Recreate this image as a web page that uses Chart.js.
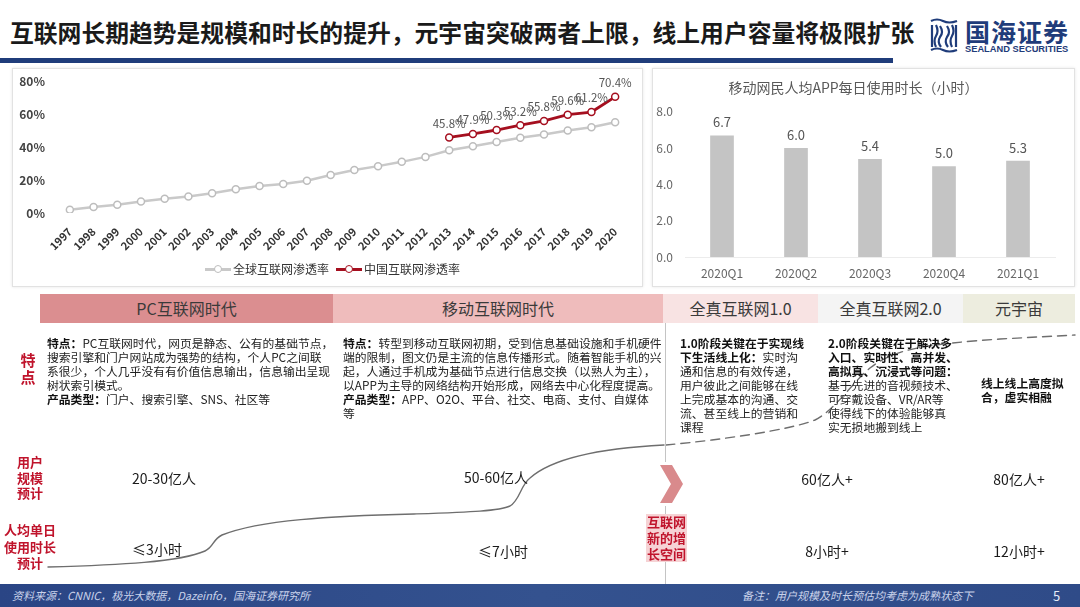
<!DOCTYPE html>
<html>
<head>
<meta charset="utf-8">
<script src="https://cdn.jsdelivr.net/npm/chart.js@4.4.1/dist/chart.umd.min.js"></script>
<style>
  html,body{margin:0;padding:0;}
  body{width:1080px;height:607px;position:relative;overflow:hidden;background:#fff;
       font-family:"Noto Sans CJK SC","Noto Sans",sans-serif;color:#222;}
  .abs{position:absolute;}
  .title{left:10px;top:15px;font-size:23.8px;font-weight:700;color:#1a1a1a;white-space:nowrap;line-height:34px;}
  .tbar{left:0;top:58px;width:893px;height:5px;background:#1f3c7a;}
  .panel{border:1px solid #e2e2e2;box-shadow:0 0 3px rgba(0,0,0,0.10);background:#fff;}
  .hdr{top:294px;height:29px;line-height:29px;text-align:center;font-size:16px;color:#3a3a3a;}
  .txt{font-size:11.8px;line-height:14px;white-space:nowrap;color:#222;}
  .txt b{font-weight:700;color:#111;}
  .red{color:#c0142c;font-weight:700;text-align:center;white-space:nowrap;}
  .val{font-size:14px;color:#1a1a1a;white-space:nowrap;transform:translate(-50%,-50%);}
  .foot{left:0;top:584px;width:1080px;height:23px;background:linear-gradient(90deg,#2a4585,#34528f 50%,#2f4b88);}
  .ftxt{font-size:11px;font-style:italic;color:#c9d2ea;white-space:nowrap;line-height:23px;top:584px;}
  .leg{font-size:12px;color:#333;white-space:nowrap;top:261px;line-height:16px;}
  .mk{display:inline-block;position:relative;width:26px;height:16px;vertical-align:top;margin-right:2px;}
  .mk i{position:absolute;left:0;top:7px;width:26px;height:2.5px;}
  .mk s{position:absolute;left:9px;top:4px;width:6px;height:6px;border-radius:50%;background:#fff;border:1.5px solid;}
</style>
</head>
<body>
<script>
// ---------------- data ----------------
const years = ['1997','1998','1999','2000','2001','2002','2003','2004','2005','2006','2007','2008',
               '2009','2010','2011','2012','2013','2014','2015','2016','2017','2018','2019','2020'];
const globalRate = [2,3.6,5,7,8.6,10,12,14.4,16.4,17.6,19.6,23,26,28.4,31,34,38,40.4,43,45.6,47.6,50,52,55];
const chinaRate = [null,null,null,null,null,null,null,null,null,null,null,null,null,null,null,null,
                   45.8,47.9,50.3,53.2,55.8,59.6,61.2,70.4];
const seriesNames = ['全球互联网渗透率','中国互联网渗透率'];
const pctTicks = [0,20,40,60,80];

const quarters = ['2020Q1','2020Q2','2020Q3','2020Q4','2021Q1'];
const appHours = [6.7,6.0,5.4,5.0,5.3];
const barTitle = '移动网民人均APP每日使用时长（小时）';
const hourTicks = [0,2,4,6,8];
</script>

<div class="abs title">互联网长期趋势是规模和时长的提升，元宇宙突破两者上限，线上用户容量将极限扩张</div>
<div class="abs tbar"></div>

<!-- logo -->
<svg class="abs" style="left:928px;top:17px" width="34" height="38" viewBox="0 0 34 38">
  <g fill="none" stroke="#1f3c7a" stroke-width="2.2">
    <path d="M3,4 Q9,1 15,4 T29,4"/>
    <path d="M3,33 Q9,30 15,33 T29,33"/>
    <path d="M4,8 L4,30"/><path d="M8,8 Q11,14 8,19 Q5,24 8,30"/>
    <path d="M12,9 Q16,15 12,20 Q9,25 13,30"/>
    <path d="M19,9 Q23,15 19,20 Q16,25 20,30"/>
    <path d="M24,8 Q27,14 24,19 Q21,24 24,30"/><path d="M28,8 L28,30"/>
  </g>
</svg>
<div class="abs" style="left:965px;top:16px;font-size:25px;font-weight:700;color:#1f3c7a;letter-spacing:1px;line-height:30px;white-space:nowrap;">国海证券</div>
<div class="abs" style="left:965px;top:43px;font-size:9.3px;font-weight:700;color:#1f3c7a;line-height:12px;white-space:nowrap;font-family:'Liberation Sans',sans-serif;">SEALAND SECURITIES</div>

<!-- panels -->
<div class="abs panel" style="left:12px;top:68px;width:629px;height:217px;"></div>
<div class="abs panel" style="left:652px;top:68px;width:421px;height:217px;"></div>
<canvas id="lineChart" class="abs" style="left:12px;top:68px" width="631" height="219"></canvas>
<canvas id="barChart" class="abs" style="left:652px;top:68px" width="423" height="219"></canvas>

<div class="abs leg" style="left:205px;"><span class="mk"><i style="background:#c9c9c9"></i><s style="border-color:#bdbdbd"></s></span><span id="lg0"></span></div>
<div class="abs leg" style="left:336px;"><span class="mk"><i style="background:#a50f1f"></i><s style="border-color:#a50f1f"></s></span><span id="lg1"></span></div>

<!-- decorative curves -->
<canvas id="deco" class="abs" style="left:0;top:0" width="1080" height="607"></canvas>

<!-- table headers -->
<div class="abs hdr" style="left:40px;width:293px;background:#db8e90;">PC互联网时代</div>
<div class="abs hdr" style="left:333px;width:330px;background:#efbcbc;">移动互联网时代</div>
<div class="abs hdr" style="left:663px;width:155px;background:#f8e3e3;">全真互联网1.0</div>
<div class="abs hdr" style="left:818px;width:145px;background:#f4f4f4;">全真互联网2.0</div>
<div class="abs hdr" style="left:963px;width:112px;background:#ededdf;">元宇宙</div>

<!-- side labels -->
<div class="abs red" style="left:13px;top:351px;width:30px;font-size:15px;line-height:17px;">特<br>点</div>
<div class="abs red" style="left:8px;top:454px;width:44px;font-size:13px;line-height:15.5px;">用户<br>规模<br>预计</div>
<div class="abs red" style="left:0px;top:522px;width:60px;font-size:13px;line-height:16.5px;">人均单日<br>使用时长<br>预计</div>

<!-- description text -->
<div class="abs txt" style="left:47px;top:336px;"><b>特点：</b>PC互联网时代，网页是静态、公有的基础节点，<br>搜索引擎和门户网站成为强势的结构，个人PC之间联<br>系很少，个人几乎没有有价值信息输出，信息输出呈现<br>树状索引模式。<br><b>产品类型：</b>门户、搜索引擎、SNS、社区等</div>
<div class="abs txt" style="left:343px;top:336px;"><b>特点：</b>转型到移动互联网初期，受到信息基础设施和手机硬件<br>端的限制，图文仍是主流的信息传播形式。随着智能手机的兴<br>起，人通过手机成为基础节点进行信息交换（以熟人为主），<br>以APP为主导的网络结构开始形成，网络去中心化程度提高。<br><b>产品类型：</b>APP、O2O、平台、社交、电商、支付、自媒体<br>等</div>
<div class="abs txt" style="left:680px;top:336px;"><b>1.0阶段关键在于实现线<br>下生活线上化：</b>实时沟<br>通和信息的有效传递，<br>用户彼此之间能够在线<br>上完成基本的沟通、交<br>流、甚至线上的营销和<br>课程</div>
<div class="abs txt" style="left:828px;top:336px;"><b>2.0阶段关键在于解决多<br>入口、实时性、高并发、<br>高拟真、沉浸式等问题：</b><br>基于先进的音视频技术、<br>可穿戴设备、VR/AR等<br>使得线下的体验能够真<br>实无损地搬到线上</div>
<div class="abs txt" style="left:981px;top:376px;"><b>线上线上高度拟<br>合，虚实相融</b></div>

<!-- divider, chevron -->
<div class="abs" style="left:665px;top:323px;width:1px;height:261px;background:#c4c4c4;"></div>
<svg class="abs" style="left:656px;top:462px" width="32" height="44" viewBox="0 0 32 44">
  <rect x="0" y="0" width="32" height="44" fill="#fff"/>
  <polygon points="4,3 16,3 27,22 16,41 4,41 15,22" fill="#d98a8c"/>
</svg>
<div class="abs red" style="left:646px;top:514px;width:41px;font-size:13px;line-height:16px;background:#f6d3d5;">互联网<br>新的增<br>长空间</div>

<!-- values -->
<div class="abs val" style="left:164px;top:478px;">20-30亿人</div>
<div class="abs val" style="left:496px;top:477px;">50-60亿人</div>
<div class="abs val" style="left:827px;top:479px;">60亿人+</div>
<div class="abs val" style="left:1019px;top:479px;">80亿人+</div>
<div class="abs val" style="left:157px;top:549px;">≤3小时</div>
<div class="abs val" style="left:503px;top:551px;">≤7小时</div>
<div class="abs val" style="left:827px;top:551px;">8小时+</div>
<div class="abs val" style="left:1019px;top:551px;">12小时+</div>

<!-- footer -->
<div class="abs foot"></div>
<div class="abs ftxt" style="left:12px;">资料来源：CNNIC，极光大数据，Dazeinfo，国海证券研究所</div>
<div class="abs ftxt" style="left:742px;">备注：用户规模及时长预估均考虑为成熟状态下</div>
<div class="abs" style="left:1053px;top:584px;line-height:23px;font-size:13px;color:#e6ebf7;">5</div>

<script>
Chart.defaults.font.family = '"Noto Sans CJK SC","Noto Sans",sans-serif';
document.getElementById('lg0').textContent = seriesNames[0];
document.getElementById('lg1').textContent = seriesNames[1];

function labelPlugin(id, dsIndex, fmt, offset, font, color) {
  return {
    id: id,
    afterDatasetsDraw(chart) {
      const ctx = chart.ctx;
      const ds = chart.data.datasets[dsIndex];
      const meta = chart.getDatasetMeta(dsIndex);
      ctx.save();
      ctx.font = font; ctx.fillStyle = color;
      ctx.textAlign = 'center'; ctx.textBaseline = 'middle';
      meta.data.forEach((el, j) => {
        const v = ds.data[j];
        if (v == null) return;
        ctx.fillText(fmt(v), el.x, el.y - offset);
      });
      ctx.restore();
    }
  };
}

new Chart(document.getElementById('lineChart'), {
  type: 'line',
  data: {
    labels: years,
    datasets: [
      { label: seriesNames[0], data: globalRate, borderColor: '#c9c9c9', borderWidth: 2.5,
        pointRadius: 3.5, pointBackgroundColor: '#fff', pointBorderColor: '#bdbdbd', pointBorderWidth: 1.5, tension: 0 },
      { label: seriesNames[1], data: chinaRate, borderColor: '#a50f1f', borderWidth: 2.8,
        pointRadius: 3.5, pointBackgroundColor: '#fff', pointBorderColor: '#a50f1f', pointBorderWidth: 1.5, tension: 0, spanGaps: false }
    ]
  },
  options: {
    responsive: false, animation: false,
    layout: { padding: { left: 0, right: 16, top: 13, bottom: 0 } },
    plugins: { legend: { display: false }, tooltip: { enabled: false } },
    scales: {
      x: { offset: true, grid: { display: false, drawTicks: false }, border: { display: false },
           ticks: { maxRotation: 45, minRotation: 45, autoSkip: false, color: '#333',
                    font: { size: 11, weight: 'bold' }, padding: 12 },
           afterFit(s) { s.height = 74; } },
      y: { min: 0, max: 80, grid: { display: false, drawTicks: false }, border: { display: false },
           afterBuildTicks(s) { s.ticks = pctTicks.map(v => ({ value: v })); },
           ticks: { callback: v => v + '%', color: '#444', font: { size: 12, weight: 'bold' }, padding: 13 },
           afterFit(s) { s.width = 46; s.paddingTop = 7; s.paddingBottom = 7; } }
    }
  },
  plugins: [labelPlugin('chinaLabels', 1, v => v.toFixed(1) + '%', 14, '11.5px "Noto Sans CJK SC",sans-serif', '#555')]
});

new Chart(document.getElementById('barChart'), {
  type: 'bar',
  data: {
    labels: quarters,
    datasets: [{ label: barTitle, data: appHours, backgroundColor: '#c4c4c4',
                 categoryPercentage: 1, barPercentage: 0.32 }]
  },
  options: {
    responsive: false, animation: false,
    layout: { padding: { left: 0, right: 20, top: 0, bottom: 0 } },
    plugins: {
      legend: { display: false }, tooltip: { enabled: false },
      title: { display: true, text: barTitle, color: '#595959',
               font: { size: 14, weight: 'normal' }, padding: { top: 11, bottom: 16 } }
    },
    scales: {
      x: { grid: { display: false, drawTicks: false }, border: { color: '#ececec' },
           ticks: { color: '#666', font: { size: 12 }, padding: 9 },
           afterFit(s) { s.height = 30; } },
      y: { min: 0, max: 8, grid: { display: false, drawTicks: false }, border: { display: false },
           afterBuildTicks(s) { s.ticks = hourTicks.map(v => ({ value: v })); },
           ticks: { callback: v => Number(v).toFixed(1), color: '#666', font: { size: 12 }, padding: 12 },
           afterFit(s) { s.width = 33; } }
    }
  },
  plugins: [labelPlugin('barLabels', 0, v => v.toFixed(1), 13, '13px "Noto Sans CJK SC",sans-serif', '#555')]
});

// decorative trend curves (illustration, not data)
(function(){
  const c = document.getElementById('deco').getContext('2d');
  c.strokeStyle = '#6e6e6e'; c.lineWidth = 1.4; c.lineCap = 'round';
  c.beginPath();
  c.moveTo(48,567);
  c.bezierCurveTo(120,565,180,562,205,551);
  c.bezierCurveTo(214,547,212,540,222,535);
  c.bezierCurveTo(260,520,330,516,414,514);
  c.bezierCurveTo(470,512,500,511,510,506);
  c.bezierCurveTo(520,500,520,486,530,478);
  c.bezierCurveTo(548,462,585,449,664,445);
  c.stroke();
  c.setLineDash([9,6]);
  c.beginPath();
  c.moveTo(666,445);
  c.bezierCurveTo(720,440,790,430,815,420);
  c.bezierCurveTo(835,410,850,385,870,368);
  c.bezierCurveTo(895,348,930,344,1000,339);
  c.lineTo(1075,335);
  c.stroke();
})();
</script>
</body>
</html>
